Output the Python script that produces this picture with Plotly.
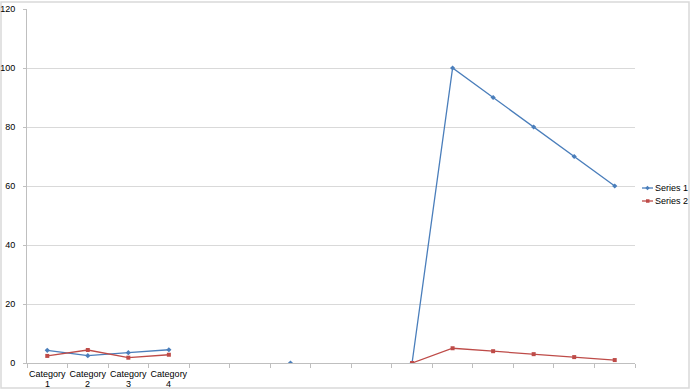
import plotly.graph_objects as go

categories = ["Category 1", "Category 2", "Category 3", "Category 4",
              "", "", "", "", "", "", "", "", "", "", ""]
series1 = [4.3, 2.5, 3.5, 4.5, None, None, 0, None, None, 0, 100, 90, 80, 70, 60]
series2 = [2.4, 4.4, 1.8, 2.8, None, None, None, None, None, 0, 5, 4, 3, 2, 1]
series_names = ["Series 1", "Series 2"]
y_ticks = [0, 20, 40, 60, 80, 100, 120]

blue = "#4A7EBB"
red = "#BE4B48"

x = list(range(len(categories)))
n = len(categories)
cat_word = [c.split(" ")[0] if c else "" for c in categories]
cat_num = [c.split(" ")[1] if c else "" for c in categories]

fig = go.Figure()
fig.add_trace(go.Scatter(x=x, y=series1, name=series_names[0], mode="lines+markers",
                         line=dict(color=blue, width=1.3),
                         marker=dict(symbol="diamond", size=4, color=blue),
                         connectgaps=False, showlegend=False))
fig.add_trace(go.Scatter(x=x, y=series2, name=series_names[1], mode="lines+markers",
                         line=dict(color=red, width=1.3),
                         marker=dict(symbol="square", size=4, color=red),
                         connectgaps=False, showlegend=False))

L, R, T, B = 27, 58, 9, 29
W, H = 693, 392
pw, ph = W - L - R, H - T - B

def px_x(p):
    return (p - L) / pw

def px_y(p):
    return (H - B - p) / ph

fig.update_layout(
    width=W, height=H,
    margin=dict(l=L, r=R, t=T, b=B),
    paper_bgcolor="white", plot_bgcolor="white",
    font=dict(family="Liberation Sans, Arial, sans-serif", color="#000000"),
    xaxis=dict(range=[-0.5, n - 0.5], tickmode="array", tickvals=x, ticktext=cat_word,
               ticks="", showgrid=False, zeroline=False, showline=True, automargin=False,
               linecolor="#BFBFBF", linewidth=1, tickfont=dict(size=9), ticklabelstandoff=2,
               minor=dict(tickmode="array", tickvals=[i - 0.5 for i in range(n + 1)],
                          ticks="outside", ticklen=4, tickcolor="#BFBFBF", showgrid=False)),
    yaxis=dict(range=[0, 120], tickmode="array", tickvals=y_ticks, automargin=False,
               showgrid=True, gridcolor="#D9D9D9", gridwidth=1, zeroline=False,
               showline=True, linecolor="#BFBFBF", linewidth=1,
               ticks="outside", ticklen=3, tickcolor="#BFBFBF",
               tickfont=dict(size=9), ticklabelstandoff=6),
)

shapes = [dict(type="rect", xref="paper", yref="paper",
               x0=px_x(1), x1=px_x(689), y0=px_y(388), y1=px_y(2),
               line=dict(color="#D9D9D9", width=1.5), fillcolor="rgba(0,0,0,0)", layer="below")]
annotations = []
for xi, num in zip(x, cat_num):
    if num:
        annotations.append(dict(xref="x", yref="paper", x=xi, y=px_y(383.5), text=num,
                                showarrow=False, xanchor="center", yanchor="middle",
                                font=dict(size=9, color="#000000")))
for i, (name, col, sym) in enumerate(zip(series_names, [blue, red], ["diamond", "square"])):
    yy = 188 + i * 13
    shapes.append(dict(type="line", xref="paper", yref="paper",
                       x0=px_x(642), x1=px_x(653), y0=px_y(yy), y1=px_y(yy),
                       line=dict(color=col, width=1.3)))
    if sym == "square":
        shapes.append(dict(type="rect", xref="paper", yref="paper",
                           x0=px_x(646), x1=px_x(649.5), y0=px_y(yy + 1.75), y1=px_y(yy - 1.75),
                           line=dict(width=0), fillcolor=col))
    else:
        shapes.append(dict(type="path", xref="paper", yref="paper",
                           path=f"M {px_x(647.5)} {px_y(yy-2.2)} L {px_x(649.7)} {px_y(yy)} L {px_x(647.5)} {px_y(yy+2.2)} L {px_x(645.3)} {px_y(yy)} Z",
                           line=dict(width=0), fillcolor=col))
    annotations.append(dict(xref="paper", yref="paper", x=px_x(653), y=px_y(yy),
                            text=name, showarrow=False, xanchor="left", yanchor="middle",
                            font=dict(size=9, color="#000000")))
fig.update_layout(shapes=shapes, annotations=annotations)

fig.write_html("out.html")
